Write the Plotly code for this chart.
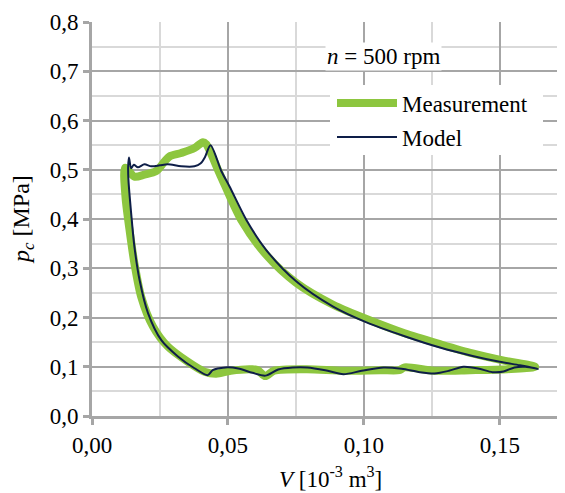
import plotly.graph_objects as go

# Measurement (V [1e-3 m3], p [MPa])
meas_v = [0.0122, 0.0156, 0.0193, 0.0236, 0.0267, 0.0285, 0.0328, 0.0377, 0.0408, 0.0420,
          0.0469, 0.0549, 0.0641, 0.0752, 0.0887, 0.1034, 0.115, 0.128, 0.140, 0.152, 0.163,
          0.1527, 0.139, 0.126, 0.115, 0.113, 0.106, 0.0925, 0.079, 0.067, 0.0638, 0.061, 0.059, 0.051, 0.0457,
          0.0414, 0.0353, 0.0279, 0.0224, 0.0181, 0.0156, 0.0138, 0.0123, 0.0122]
meas_p = [0.504, 0.486, 0.490, 0.497, 0.517, 0.527, 0.534, 0.544, 0.556, 0.552,
          0.493, 0.398, 0.327, 0.270, 0.226, 0.192, 0.168, 0.146, 0.127, 0.112, 0.100,
          0.095, 0.093, 0.092, 0.0986, 0.093, 0.093, 0.092, 0.095, 0.092, 0.081, 0.093, 0.095, 0.092, 0.086,
          0.090, 0.110, 0.141, 0.182, 0.242, 0.310, 0.378, 0.446, 0.504]

# Model
model_v = [0.0136, 0.0144, 0.0154, 0.0169, 0.0193, 0.0218, 0.0250, 0.0279, 0.0328, 0.0377, 0.0400, 0.0415, 0.0436,
           0.0476, 0.0506, 0.0568, 0.0641, 0.0752, 0.0887, 0.1010, 0.115, 0.128, 0.140, 0.150, 0.1574, 0.164,
           0.1594, 0.1554, 0.1514, 0.1473, 0.142, 0.1366, 0.1313, 0.126, 0.1206, 0.1139, 0.1072, 0.0992, 0.0925,
           0.0858, 0.0792, 0.0738, 0.0685, 0.0638, 0.059, 0.0538, 0.049, 0.0444, 0.0426,
           0.0377, 0.0316, 0.0255, 0.0206, 0.0175, 0.0156, 0.0144, 0.0134, 0.0133, 0.0136]
model_p = [0.525, 0.503, 0.510, 0.505, 0.511, 0.507, 0.509, 0.511, 0.507, 0.507, 0.513, 0.525, 0.550,
           0.497, 0.466, 0.398, 0.337, 0.273, 0.222, 0.190, 0.162, 0.139, 0.122, 0.110, 0.103, 0.096,
           0.100, 0.0986, 0.0904, 0.089, 0.0966, 0.100, 0.0918, 0.0864, 0.089, 0.0959, 0.0986, 0.0918, 0.085,
           0.093, 0.0986, 0.0986, 0.0945, 0.082, 0.0877, 0.0966, 0.0986, 0.093, 0.083,
           0.097, 0.121, 0.154, 0.209, 0.276, 0.344, 0.412, 0.480, 0.505, 0.525]

x_ticks = [0.00, 0.05, 0.10, 0.15]
y_ticks = [0.0, 0.1, 0.2, 0.3, 0.4, 0.5, 0.6, 0.7, 0.8]

GREEN = "#8DC63F"
NAVY = "#0E1E48"
FONT = "Liberation Serif"
AXC = "#A6A6A6"

# page body has an 8px margin; figure is sized so it fills the 565x493 window
OFF = 8
W, H = 565 - OFF, 493 - OFF
L, R, T, B = 92 - OFF, 0, 22 - OFF, 485 - 408
pw = W - L - R
ph = H - T - B

def px(xp):
    return (xp - OFF - L) / pw

def py(yp):
    return (H - B - (yp - OFF)) / ph

def f(size):
    return dict(family=FONT, size=size, color="black")

fig = go.Figure()
fig.add_trace(go.Scatter(x=meas_v, y=meas_p, mode="lines", name="Measurement",
                         line=dict(color=GREEN, width=8, shape="spline", smoothing=0.8),
                         legend="legend"))
fig.add_trace(go.Scatter(x=model_v, y=model_p, mode="lines", name="Model",
                         line=dict(color=NAVY, width=2, shape="spline", smoothing=0.8),
                         legend="legend2"))

fig.update_layout(
    width=W, height=H,
    margin=dict(l=L, r=R, t=T, b=B, autoexpand=False),
    paper_bgcolor="white", plot_bgcolor="white",
    separators=",.",
    font=f(23),
    xaxis=dict(range=[0, 0.174], tickvals=x_ticks, tickformat=".2f",
               showgrid=True, gridcolor=AXC, gridwidth=1.5,
               minor=dict(dtick=0.025, tick0=0, showgrid=True, gridcolor="#D9D9D9", gridwidth=1.5),
               showline=True, linecolor=AXC, linewidth=3,
               ticks="outside", ticklen=6, tickwidth=3, tickcolor=AXC,
               zeroline=False, automargin=False, tickfont=f(23)),
    yaxis=dict(range=[0, 0.8], tickvals=y_ticks, tickformat=".1f",
               ticksuffix="\u2004",
               showgrid=True, gridcolor=AXC, gridwidth=1.5,
               minor=dict(dtick=0.05, tick0=0, showgrid=True, gridcolor="#D9D9D9", gridwidth=1.5),
               showline=True, linecolor=AXC, linewidth=3,
               ticks="outside", ticklen=6, tickwidth=3, tickcolor=AXC,
               zeroline=False, automargin=False, tickfont=f(23)),
    legend=dict(x=px(332), y=py(103), xanchor="left", yanchor="middle",
                bgcolor="rgba(0,0,0,0)", font=f(23), itemwidth=60),
    legend2=dict(x=px(332), y=py(137), xanchor="left", yanchor="middle",
                 bgcolor="rgba(0,0,0,0)", font=f(23), itemwidth=60),
    showlegend=True,
)

fig.add_shape(type="rect", xref="paper", yref="paper",
              x0=px(330), x1=px(543), y0=py(155), y1=py(85),
              fillcolor="white", line=dict(width=0), layer="above")

fig.add_annotation(x=px(383), y=py(57), xref="paper", yref="paper",
                   xanchor="center", yanchor="middle",
                   text="<i>n</i> = 500 rpm", showarrow=False,
                   font=f(23), bgcolor="white", borderpad=1)

# axis titles
fig.add_annotation(x=px(330), y=py(477), xref="paper", yref="paper",
                   xanchor="center", yanchor="middle", showarrow=False,
                   text="<i>V</i> [10<sup>-3</sup> m<sup>3</sup>]", font=f(23))
fig.add_annotation(x=px(23), y=py(220), xref="paper", yref="paper",
                   xanchor="center", yanchor="middle", showarrow=False, textangle=-90,
                   text="<i>p<sub>c</sub></i> [MPa]", font=f(24))

fig.write_html("out.html")
